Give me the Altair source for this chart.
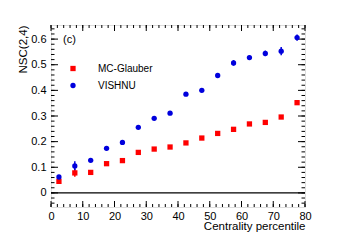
import altair as alt
import pandas as pd
import numpy as np

# Data
centrality = [2.5, 7.5, 12.5, 17.5, 22.5, 27.5, 32.5, 37.5,
              42.5, 47.5, 52.5, 57.5, 62.5, 67.5, 72.5, 77.5]
glauber = [0.045, 0.078, 0.080, 0.114, 0.126, 0.158, 0.171, 0.179,
           0.195, 0.214, 0.232, 0.248, 0.269, 0.275, 0.296, 0.352]
glauber_err = [0.008, 0.015, 0.004, 0.004, 0.004, 0.004, 0.004, 0.004,
               0.004, 0.004, 0.004, 0.004, 0.004, 0.004, 0.004, 0.005]
vishnu = [0.062, 0.105, 0.127, 0.174, 0.197, 0.256, 0.291, 0.311,
          0.385, 0.400, 0.458, 0.507, 0.528, 0.544, 0.553, 0.606]
vishnu_err = [0.006, 0.018, 0.005, 0.005, 0.006, 0.006, 0.005, 0.005,
              0.006, 0.006, 0.006, 0.011, 0.007, 0.011, 0.016, 0.012]
models = ["MC-Glauber", "VISHNU"]
colors = ["#ff0000", "#0000dd"]
shapes = ["square", "circle"]

x_major = [0, 10, 20, 30, 40, 50, 60, 70, 80]
x_minor = list(range(0, 81, 2))
y_major = [0, 0.1, 0.2, 0.3, 0.4, 0.5, 0.6]
y_minor = [round(v, 2) for v in np.arange(-0.04, 0.65, 0.02)]

W, H = 254, 182
FONT = "Liberation Sans"

rows = []
for c, v, e in zip(centrality, glauber, glauber_err):
    rows.append({"cent": c, "val": v, "lo": v - e, "hi": v + e, "model": models[0]})
for c, v, e in zip(centrality, vishnu, vishnu_err):
    rows.append({"cent": c, "val": v, "lo": v - e, "hi": v + e, "model": models[1]})
df = pd.DataFrame(rows)

xscale = alt.Scale(domain=[0, 80], nice=False, zero=False)
yscale = alt.Scale(domain=[-0.055, 0.655], nice=False, zero=False)

xaxis = alt.Axis(values=x_major, ticks=False, domain=False, grid=False,
                 labelFontSize=11, labelColor="black", labelPadding=3,
                 labelFont=FONT, labelFlush=False,
                 title="Centrality percentile", titleFont=FONT, titleFontSize=11.5,
                 titleFontWeight="normal", titleColor="black",
                 titleAnchor="end", titleAlign="right", titleX=W, titleY=13,
                 titleBaseline="top")
yaxis = alt.Axis(values=y_major, ticks=False, domain=False, grid=False,
                 labelFontSize=11, labelColor="black", labelPadding=5,
                 labelFont=FONT, labelFlush=False,
                 labelExpr="datum.value == 0 ? '0' : format(datum.value, '.1f')",
                 title="NSC(2,4)", titleFont=FONT, titleFontSize=11.5,
                 titleFontWeight="normal", titleColor="black",
                 titleAngle=-90, titleAlign="right", titleBaseline="middle",
                 titleX=-28, titleY=0)

def X(f):
    return alt.X(f, type="quantitative", scale=xscale, axis=xaxis)

def Y(f):
    return alt.Y(f, type="quantitative", scale=yscale, axis=yaxis)

legend = alt.Legend(title=None, orient="none", legendX=17, legendY=38.5,
                    labelFont=FONT, labelFontSize=10, labelColor="black",
                    symbolSize=28, labelOffset=20, rowPadding=7,
                    symbolStrokeWidth=0)
color = alt.Color("model:N", scale=alt.Scale(domain=models, range=colors), legend=legend)
shape = alt.Shape("model:N", scale=alt.Scale(domain=models, range=shapes), legend=legend)

base = alt.Chart(df)

errbars = base.mark_rule(strokeWidth=1.5).encode(
    x=X("cent"), y=Y("lo"), y2="hi", color=color)

points = base.mark_point(filled=True, size=28, opacity=1).encode(
    x=X("cent"), y=Y("val"), color=color, shape=shape)

zero = alt.Chart(pd.DataFrame({"z": [0]})).mark_rule(color="black", strokeWidth=1.2).encode(
    y=Y("z"))

xmaj = pd.DataFrame({"t": x_major})
xmin = pd.DataFrame({"t": x_minor})
ymaj = pd.DataFrame({"t": y_major})
ymin = pd.DataFrame({"t": y_minor})

tick_layers = []
for d, L in [(xmaj, 6), (xmin, 3)]:
    tick_layers.append(alt.Chart(d).mark_rule(color="black", strokeWidth=1).encode(
        x=X("t"), y=alt.value(H), y2=alt.value(H - L)))
    tick_layers.append(alt.Chart(d).mark_rule(color="black", strokeWidth=1).encode(
        x=X("t"), y=alt.value(0), y2=alt.value(L)))
for d, L in [(ymaj, 7), (ymin, 3.5)]:
    tick_layers.append(alt.Chart(d).mark_rule(color="black", strokeWidth=1).encode(
        y=Y("t"), x=alt.value(0), x2=alt.value(L)))
    tick_layers.append(alt.Chart(d).mark_rule(color="black", strokeWidth=1).encode(
        y=Y("t"), x=alt.value(W), x2=alt.value(W - L)))

label_c = alt.Chart(pd.DataFrame({"t": ["(c)"]})).mark_text(
    font=FONT, fontSize=11, color="black", align="left", baseline="middle").encode(
    text="t:N", x=alt.value(12), y=alt.value(14.5))

chart = alt.layer(zero, *tick_layers, errbars, points, label_c).properties(
    width=W, height=H,
    autosize=alt.AutoSizeParams(type="none"),
    padding={"left": 43, "top": 17, "right": 26, "bottom": 28},
).configure_view(stroke="black", strokeWidth=1.2).configure(font=FONT, background="white")

chart.save("out.html", embed_options={"renderer": "svg", "actions": False})
